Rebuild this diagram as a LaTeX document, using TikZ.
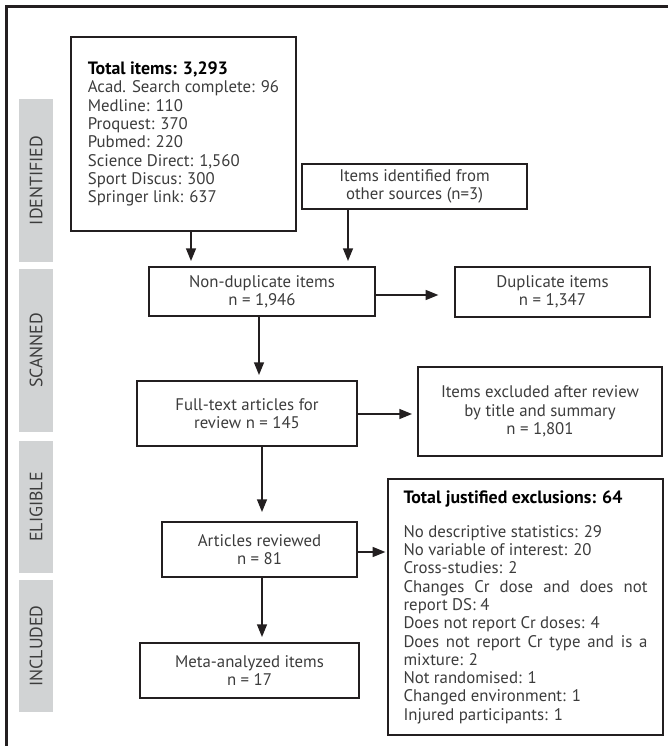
\documentclass[tikz,border=0pt]{standalone}
\usepackage{fontspec}
\setmainfont{PT Sans}
\usetikzlibrary{arrows.meta}
\definecolor{barfill}{HTML}{D1D3D4}
\definecolor{txt}{HTML}{3C3C3C}
\definecolor{frame}{HTML}{231F20}
\newcommand\headtext[1]{{\color{black}\fontsize{13.4}{13.7}\selectfont\bfseries #1}}

\begin{document}
\begin{tikzpicture}[x=0.75pt, y=-0.75pt, >={Triangle[length=9.5pt,width=7.5pt]},
	box/.style 2 args={draw=frame, line width=1pt, inner sep=0pt, align=center, text=txt,
		minimum width=#1*0.75pt, minimum height=#2*0.75pt,
		font=\fontsize{12.6}{13.7}\selectfont},
	phase/.style={fill=barfill, rotate=90, text=txt, inner sep=0pt,
		minimum width=#1*0.75pt, minimum height=34*0.75pt,
		font=\fontsize{13.4}{13.7}\selectfont},
	arr/.style={->, draw=frame, line width=1pt, shorten >=4pt}]
	\useasboundingbox (0,0) rectangle (668,746);
	
	% === outer frame ===
	\draw[frame, line width=2pt] (6.5,746) -- (6.5,6.5) -- (668,6.5);
	
	% === phases ===
	\node[phase=163] (identified) at (36,180.5) {IDENTIFIED};
	\node[phase=163] (scanned) at (36,350.5) {SCANNED};
	\node[phase=132] (eligible) at (36,507) {ELIGIBLE};
	\node[phase=132] (included) at (36,646) {INCLUDED};
	
	% === boxes ===
	\node[box={225}{194}, align=left] (total) at (183.5,134) {%
		\headtext{Total items: 3,293}\\
		Acad. Search complete: 96\\
		Medline: 110\\
		Proquest: 370\\
		Pubmed: 220\\
		Science Direct: 1,560\\
		Sport Discus: 300\\
		Springer link: 637};
	\node[box={225}{45}] (other) at (414.5,186.5) {Items identified from\\other sources (n=3)};
	\node[box={226}{49}] (nondup) at (262,291.5) {Non-duplicate items\\n = 1,946};
	\node[box={195}{50}] (dup) at (552.5,292) {Duplicate items\\n = 1,347};
	\node[box={220}{65}] (fulltext) at (247,413.5) {Full-text articles for\\review n = 145};
	\node[box={244}{89}] (excluded) at (540,411.5) {Items excluded after review\\by title and summary\\n = 1,801};
	\node[box={195}{55}] (reviewed) at (259.5,549.5) {Articles reviewed\\n = 81};
	\node[box={219}{55}] (meta) at (249.5,670.5) {Meta-analyzed items\\n = 17};
	\node[box={275}{256}, align=justify, text width=244*0.75pt] (justified) at (525.5,607) {%
		\parindent=0pt\headtext{Total justified exclusions: 64}\par\vspace{12pt}
		No descriptive statistics: 29\par
		No variable of interest: 20\par
		Cross-studies: 2\par
		Changes Cr dose and does not\linebreak report DS: 4\par
		Does not report Cr doses: 4\par
		Does not report Cr type and is a\linebreak mixture: 2\par
		Not randomised: 1\par
		Changed environment: 1\par
		Injured participants: 1};
	
	% === connectors ===
	\coordinate (xa) at (191,0);
	\coordinate (xb) at (348,0);
	\coordinate (xc) at (259,0);
	\coordinate (xd) at (262,0);
	\coordinate (ya) at (0,295);
	\coordinate (yb) at (0,414);
	\coordinate (yc) at (0,552);
	\draw[arr] (total.south -| xa) -- (nondup.north -| xa);
	\draw[arr] (other.south -| xb) -- (nondup.north -| xb);
	\draw[arr, shorten >=12pt] (nondup.east |- ya) -- (dup.west |- ya);
	\draw[arr] (nondup.south -| xc) -- (fulltext.north -| xc);
	\draw[arr] (fulltext.east |- yb) -- (excluded.west |- yb);
	\draw[arr, shorten >=7pt] (fulltext.south -| xd) -- (reviewed.north -| xd);
	\draw[arr, shorten >=1.5pt] (reviewed.east |- yc) -- (justified.west |- yc);
	\draw[arr] (reviewed.south -| xd) -- (meta.north -| xd);
\end{tikzpicture}
\end{document}
